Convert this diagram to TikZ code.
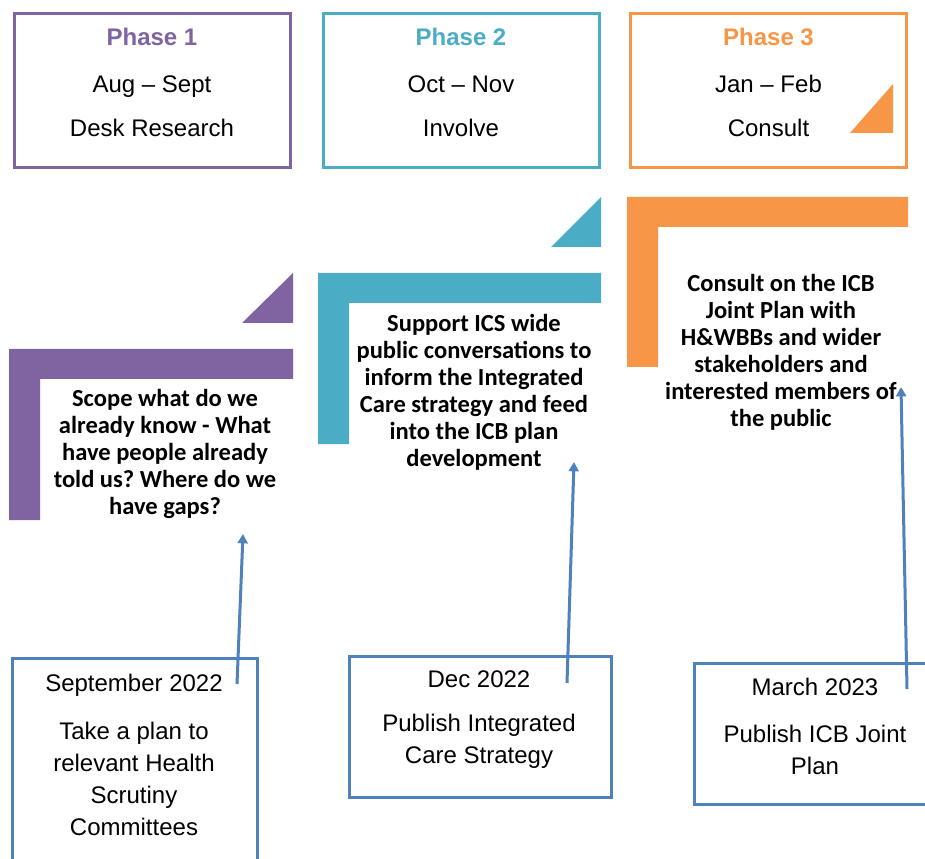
\documentclass[tikz,border=0pt]{standalone}
\usepackage{fontspec}
\setmainfont{Liberation Sans}
\newfontfamily\carlito{Carlito}
\usetikzlibrary{arrows.meta}
\frenchspacing
\definecolor{cpurple}{HTML}{8064A2}
\definecolor{cteal}{HTML}{4BACC6}
\definecolor{corange}{HTML}{F79646}
\definecolor{cblue}{HTML}{4F81BD}
\tikzset{
  phasebox/.style={draw=#1, line width=2.25pt, minimum width=207pt, minimum height=115.5pt, inner sep=0pt},
  phasetitle/.style={text=#1, font=\fontsize{18}{21}\selectfont\bfseries, inner sep=0pt, anchor=base},
  plain/.style={font=\fontsize{18}{21}\selectfont, inner sep=0pt, anchor=base},
  bodytxt/.style={font=\fontsize{18}{24.2}\selectfont, align=center, inner sep=0pt},
  boldtxt/.style={font=\carlito\bfseries\fontsize{18.4}{20.3}\selectfont, align=center, inner sep=0pt},
  milebox/.style={draw=cblue, line width=2.25pt, inner sep=0pt},
  shapefill/.style={fill=#1, draw=none},
  uparrow/.style={draw=cblue, line width=2.25pt, -{Triangle[width=7.5pt,length=7pt]}}
}
\begin{document}
\begin{tikzpicture}[x=0.75pt,y=-0.75pt]
\useasboundingbox (0,0) rectangle (925,859);
\clip (0,0) rectangle (925,859);
\fill[white] (0,0) rectangle (925,859);

% Phase boxes
\node[phasebox=cpurple] (p1) at (152,91) {};
\node[phasebox=cteal] (p2) at (461,91) {};
\node[phasebox=corange] (p3) at (768.5,91) {};

\node[phasetitle=cpurple] (p1t) at (152,46) {Phase 1};
\node[plain] (p1d) at (152,93) {Aug – Sept};
\node[plain] (p1n) at (152,137) {Desk Research};

\node[phasetitle=cteal] (p2t) at (461,46) {Phase 2};
\node[plain] (p2d) at (461,93) {Oct – Nov};
\node[plain] (p2n) at (461,137) {Involve};

\node[phasetitle=corange] (p3t) at (768.5,46) {Phase 3};
\node[plain] (p3d) at (768.5,93) {Jan – Feb};
\node[plain] (p3n) at (768.5,137) {Consult};

% Triangles
\fill[shapefill=corange] (850,133) -- (893,84) -- (893,133) -- cycle;
\fill[shapefill=cteal] (551,247) -- (601,197) -- (601,247) -- cycle;
\fill[shapefill=cpurple] (242,323) -- (293,273) -- (293,323) -- cycle;

% L shapes
\fill[shapefill=cpurple] (9,349) -- (293,349) -- (293,379) -- (40,379) -- (40,520) -- (9,520) -- cycle;
\fill[shapefill=cteal] (318,273) -- (601,273) -- (601,303) -- (349,303) -- (349,444) -- (318,444) -- cycle;
\fill[shapefill=corange] (627,197) -- (908,197) -- (908,227) -- (658,227) -- (658,367) -- (627,367) -- cycle;

% Phase texts
\node[boldtxt] (t1) at (165,454) {Scope what do we\\already know - What\\have people already\\told us? Where do we\\have gaps?};
\node[boldtxt] (t2) at (474,392) {Support ICS wide\\public conversations to\\inform the Integrated\\Care strategy and feed\\into the ICB plan\\development};
\node[boldtxt] (t3) at (781,352) {Consult on the ICB\\Joint Plan with\\H\&WBBs and wider\\stakeholders and\\interested members of\\the public};

% Milestone boxes
\node[milebox, minimum width=183.75pt, minimum height=181.5pt] (m1) at (134.5,779) {};
\node[milebox, minimum width=196.5pt, minimum height=105.75pt] (m2) at (480,726.5) {};
\node[milebox, minimum width=199.5pt, minimum height=105.75pt] (m3) at (827,733.5) {};

\node[plain] (m1d) at (134,691) {September 2022};
\node[bodytxt] (m1t) at (134,779) {Take a plan to\\relevant Health\\Scrutiny\\Committees};
\node[plain] (m2d) at (479,687) {Dec 2022};
\node[bodytxt] (m2t) at (479,741.5) {Publish Integrated\\Care Strategy};
\node[plain] (m3d) at (815,695) {March 2023};
\node[bodytxt] (m3t) at (815,750) {Publish ICB Joint\\Plan};

% Arrows
\coordinate (a1s) at (237,684);
\coordinate (a1e) at (243,534);
\coordinate (a2s) at (567,683);
\coordinate (a2e) at (574,462);
\coordinate (a3s) at (907,689);
\coordinate (a3e) at (901,387);
\draw[uparrow] (a1s) -- (a1e);
\draw[uparrow] (a2s) -- (a2e);
\draw[uparrow] (a3s) -- (a3e);
\end{tikzpicture}
\end{document}
